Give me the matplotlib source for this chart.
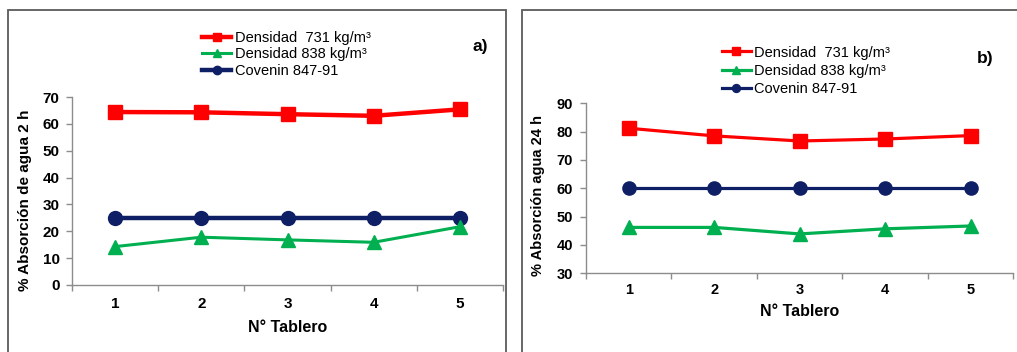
import matplotlib
matplotlib.use("Agg")
import matplotlib.pyplot as plt
from matplotlib.patches import Rectangle
from matplotlib.ticker import FixedLocator, NullFormatter, FixedFormatter

plt.rcParams['font.family'] = ['Liberation Sans', 'DejaVu Sans']

# ---------------- data ----------------
tableros = [1, 2, 3, 4, 5]
tick_labels = ['1', '2', '3', '4', '5']
labels = ['Densidad  731 kg/m³', 'Densidad 838 kg/m³', 'Covenin 847-91']

a_d731 = [64.4, 64.3, 63.6, 63.0, 65.4]
a_d838 = [14.3, 17.8, 16.8, 15.9, 21.7]
a_covenin = [25, 25, 25, 25, 25]

b_d731 = [81.2, 78.5, 76.7, 77.4, 78.6]
b_d838 = [46.2, 46.2, 43.9, 45.7, 46.7]
b_covenin = [60, 60, 60, 60, 60]

W, H = 1017, 352
RED = '#FF0000'
GREEN = '#00B050'
NAVY = '#0E1F66'
AXC = '#8C8C8C'

fig = plt.figure(figsize=(W / 100, H / 100), dpi=100)
fig.patch.set_facecolor('white')

def fx(px):
    return px / W

def fy(py):
    return 1 - py / H

# panel frames
for (x0, y0, x1) in [(7.5, 9.5, 505.5), (521.5, 9.5, 1030)]:
    fig.patches.append(Rectangle((fx(x0), fy(400)), fx(x1 - x0), (400 - y0) / H,
                                 transform=fig.transFigure, fill=False,
                                 edgecolor='#5A5A5A', linewidth=1.3, zorder=0))

def make_axes(rect_px, ylim, yticks, series, lws, tick_fs, pad_x, pad_y, ms):
    x0, x1, ytop, ybot = rect_px
    ax = fig.add_axes([fx(x0), fy(ybot), fx(x1 - x0), (ybot - ytop) / H])
    ax.set_xlim(0.5, 5.5)
    ax.set_ylim(*ylim)
    for s in ['top', 'right']:
        ax.spines[s].set_visible(False)
    for s in ['left', 'bottom']:
        ax.spines[s].set_color(AXC)
        ax.spines[s].set_linewidth(1.0)
    ax.xaxis.set_major_locator(FixedLocator([0.5, 1.5, 2.5, 3.5, 4.5, 5.5]))
    ax.xaxis.set_major_formatter(NullFormatter())
    ax.xaxis.set_minor_locator(FixedLocator(tableros))
    ax.xaxis.set_minor_formatter(FixedFormatter(tick_labels))
    ax.tick_params(axis='x', which='major', length=4, color=AXC, width=1.0, direction='out')
    ax.tick_params(axis='x', which='minor', length=0, pad=pad_x, labelsize=tick_fs)
    ax.set_yticks(yticks)
    ax.tick_params(axis='y', length=4, color=AXC, width=1.0, direction='out',
                   pad=pad_y, labelsize=tick_fs)
    for lab in ax.get_xticklabels(which='minor') + ax.get_yticklabels():
        lab.set_fontweight('bold')
    d731, d838, cov = series
    lr, lg, lb = lws
    h1, = ax.plot(tableros, d731, color=RED, lw=lr, marker='s', ms=ms, zorder=3)
    h2, = ax.plot(tableros, d838, color=GREEN, lw=lg, marker='^', ms=ms, zorder=3)
    h3, = ax.plot(tableros, cov, color=NAVY, lw=lb, marker='o', ms=ms - 0.5, zorder=2)
    ax.patch.set_alpha(0)
    return ax, [h1, h2, h3]

axa, ha = make_axes((72, 503, 97, 285), (0, 70), list(range(0, 71, 10)),
                    (a_d731, a_d838, a_covenin), (3.2, 2.2, 3.2), 11, 9, 5, 10.5)
axb, hb = make_axes((586, 1013.3, 103.3, 273.3), (30, 90), list(range(30, 91, 10)),
                    (b_d731, b_d838, b_covenin), (2.3, 2.3, 2.3), 10.5, 7, 5.5, 10)

def make_legend(ax, handles, x_px, y_px, spacing):
    leg = ax.legend(handles, labels, loc='upper left',
                    bbox_to_anchor=(fx(x_px), fy(y_px)), bbox_transform=fig.transFigure,
                    frameon=False, fontsize=10.5, handlelength=2.0, handletextpad=0.25,
                    labelspacing=spacing, borderpad=0, borderaxespad=0, markerscale=0.6)
    return leg

make_legend(axa, ha, 202, 31, 0.17)
make_legend(axb, hb, 721.5, 45.5, 0.29)

fig.text(fx(480), fy(47), 'a)', ha='center', va='center', fontsize=12.5, fontweight='bold')
fig.text(fx(985), fy(59), 'b)', ha='center', va='center', fontsize=12.5, fontweight='bold')

fig.text(fx(25), fy(200), '% Absorción de agua 2 h', rotation=90, ha='center', va='center',
         fontsize=11, fontweight='bold')
fig.text(fx(538), fy(195), '% Absorción agua 24 h', rotation=90, ha='center', va='center',
         fontsize=10.5, fontweight='bold')
fig.text(fx(288), fy(328), 'N° Tablero', ha='center', va='center', fontsize=11.5, fontweight='bold')
fig.text(fx(800), fy(311), 'N° Tablero', ha='center', va='center', fontsize=11.5, fontweight='bold')

fig.savefig('out.png', dpi=100, facecolor='white')
